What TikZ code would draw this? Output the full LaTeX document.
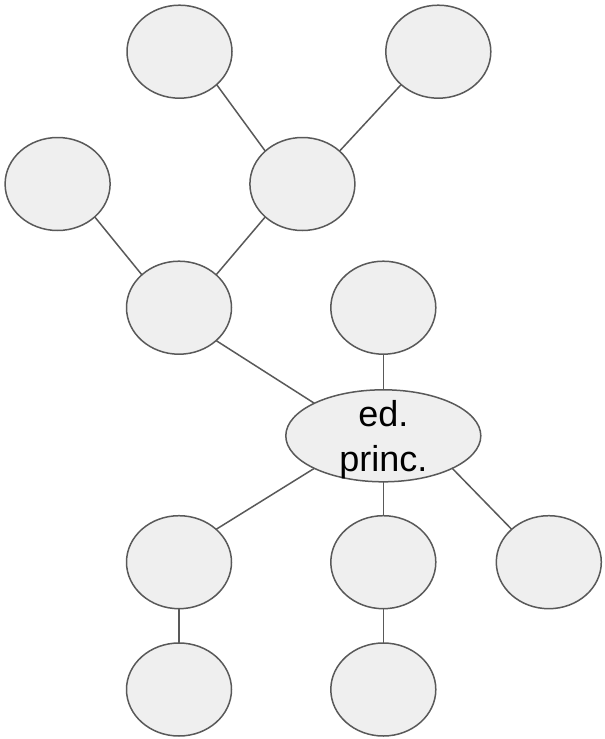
\documentclass[tikz,border=0pt]{standalone}
\usepackage{fontspec}
\setmainfont{Liberation Sans}
\usetikzlibrary{shapes.geometric}
\definecolor{edgec}{HTML}{595959}
\definecolor{fillc}{HTML}{EFEFEF}
\begin{document}
\begin{tikzpicture}[x=1pt,y=-1pt,
  bub/.style={ellipse, draw=edgec, fill=fillc, line width=1.5pt,
    minimum width=105pt, minimum height=93pt, inner sep=0pt, outer sep=0pt},
  bigbub/.style={bub, minimum width=195pt, minimum height=92pt},
  link/.style={draw=edgec, line width=1.5pt},
  lbl/.style={font=\fontsize{36}{45}\selectfont, align=center, inner sep=0pt, text=black}]
\useasboundingbox (0,0) rectangle (605,739);
\node[bub] (tl) at (179.5,51.7) {};
\node[bub] (tr) at (438.3,51.7) {};
\node[bub] (l) at (57.6,184) {};
\node[bub] (mu) at (302.4,184) {};
\node[bub] (ml) at (179,307.7) {};
\node[bub] (ur) at (383.3,307.7) {};
\node[bigbub, label={[lbl, yshift=-4.3pt]center:ed.\\princ.}] (c) at (383.3,435.8) {};
\node[bub] (bl) at (179,562.2) {};
\node[bub] (bm) at (383.3,562.2) {};
\node[bub] (br) at (548.8,562.2) {};
\node[bub] (bbl) at (179,689.5) {};
\node[bub] (bbm) at (383.3,689.5) {};
\draw[link] (tl.south east) -- (mu.north west);
\draw[link] (tr.south west) -- (mu.north east);
\draw[link] (l.south east) -- (ml.north west);
\draw[link] (mu.south west) -- (ml.north east);
\draw[link] (ml.south east) -- (c.north west);
\draw[link] (ur.south) -- (c.north);
\draw[link] (c.south west) -- (bl.north east);
\draw[link] (c.south) -- (bm.north);
\draw[link] (c.south east) -- (br.north west);
\draw[link] (bl.south) -- (bbl.north);
\draw[link] (bm.south) -- (bbm.north);
\end{tikzpicture}
\end{document}
